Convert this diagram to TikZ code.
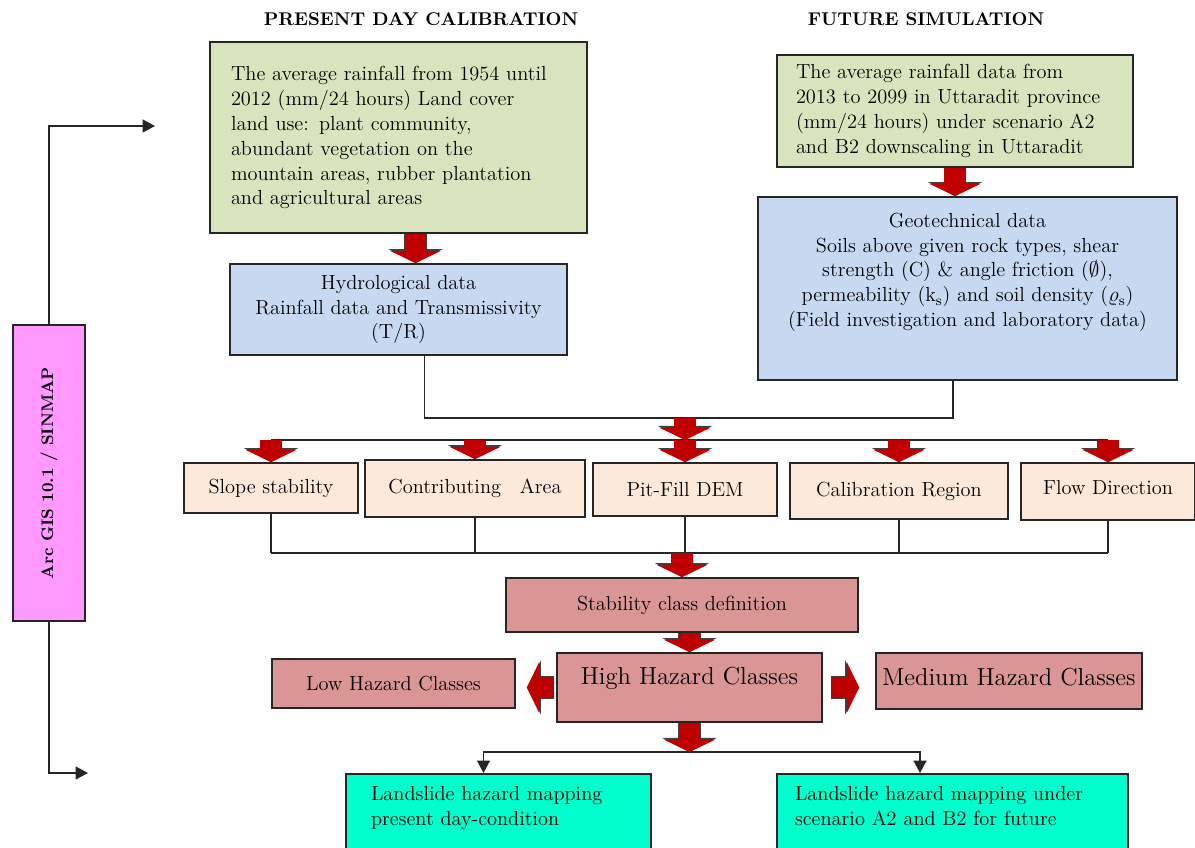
\documentclass[tikz,border=0pt]{standalone}
\usepackage{amssymb}
\usepackage{amsmath}
\usepackage{tikz}
\usetikzlibrary{arrows.meta}
\definecolor{rainfill}{HTML}{D7E4BD}
\definecolor{datafill}{HTML}{C6D9F1}
\definecolor{layerfill}{HTML}{FDE9D9}
\definecolor{classfill}{HTML}{D99694}
\definecolor{mapfill}{HTML}{00FFCC}
\definecolor{gisfill}{HTML}{FF99FF}
\definecolor{redfill}{HTML}{C00000}

\begin{document}
\begin{tikzpicture}
        \tikzstyle{every node} = [rectangle, font=\fontsize{11.6}{14.2}\selectfont]
        \tikzstyle{flowbox} = [draw=black!85, line width=1pt]
        \tikzstyle{headtext} = [font=\bfseries\fontsize{10.5}{13}\selectfont]
        \tikzstyle{bigtext} = [font=\fontsize{14}{17}\selectfont]
        \tikzstyle{conn} = [draw=black!85, line width=0.9pt]
        \tikzstyle{blacktip} = [-{Triangle[length=0.25cm,width=0.26cm]}]
        \tikzstyle{fatarrow} = [draw=redfill, line width=12pt,
            -{Triangle[width=29pt,length=7pt,line width=0pt]},
            preaction={draw=black!75, line width=13pt, -{Triangle[width=31pt,length=8pt,line width=0pt]}}]
        \useasboundingbox (0,0) rectangle (23.9,-16.94);

        % headings
        \node[headtext] (presenthead) at (8.42,-0.38) {PRESENT DAY CALIBRATION};
        \node[headtext] (futurehead) at (18.52,-0.38) {FUTURE SIMULATION};

        % input data
        \node[flowbox, fill=rainfill, align=left, text width=6.7cm, inner xsep=0.42cm, minimum height=3.82cm] (presbox) at (7.97,-2.75)
            {The average rainfall from 1954 until\\2012 (mm/24 hours) Land cover\\land use: plant community,\\abundant vegetation on the\\mountain areas, rubber plantation\\and agricultural areas};
        \node[flowbox, fill=rainfill, align=left, text width=6.36cm, inner xsep=0.38cm, minimum height=2.24cm] (futbox) at (19.1,-2.22)
            {The average rainfall data from\\2013 to 2099 in Uttaradit province\\(mm/24 hours) under scenario A2\\and B2 downscaling in Uttaradit};
        \node[flowbox, fill=datafill, align=center, minimum width=6.74cm, minimum height=1.82cm] (hydro) at (7.97,-6.19)
            {Hydrological data\\Rainfall data and Transmissivity\\(T/R)};
        \node[flowbox, fill=datafill, align=center, minimum width=8.38cm, minimum height=3.66cm] (geo) at (19.35,-5.77)
            {Geotechnical data\\Soils above given rock types, shear\\strength (C) \& angle friction ($\emptyset$),\\permeability (k\textsubscript{s}) and soil density ($\varrho$\textsubscript{s})\\(Field investigation and laboratory data)\\[0.25cm]\mbox{}};

        % SINMAP layers
        \node[flowbox, fill=layerfill, minimum width=3.48cm, minimum height=1.0cm] (slope) at (5.42,-9.76) {Slope stability};
        \node[flowbox, fill=layerfill, minimum width=4.4cm, minimum height=1.14cm] (contrib) at (9.5,-9.77) {Contributing\hspace{0.6em} Area};
        \node[flowbox, fill=layerfill, minimum width=3.68cm, minimum height=1.06cm] (pitfill) at (13.7,-9.79) {Pit-Fill DEM};
        \node[flowbox, fill=layerfill, minimum width=4.36cm, minimum height=1.12cm] (calib) at (17.98,-9.82) {Calibration Region};
        \node[flowbox, fill=layerfill, minimum width=3.48cm, minimum height=1.14cm, text depth=0.15cm] (flow) at (22.16,-9.83) {Flow Direction};

        % classes
        \node[flowbox, fill=classfill, minimum width=7.04cm, minimum height=1.08cm] (stab) at (13.64,-12.1) {Stability class definition};
        \node[flowbox, fill=classfill, bigtext, minimum width=5.3cm, minimum height=1.38cm, text depth=0.45cm] (high) at (13.79,-13.75) {High Hazard Classes};
        \node[flowbox, fill=classfill, minimum width=4.86cm, minimum height=0.98cm] (low) at (7.87,-13.67) {Low Hazard Classes};
        \node[flowbox, fill=classfill, bigtext, minimum width=5.32cm, minimum height=1.12cm, text depth=0.15cm] (med) at (20.18,-13.62) {Medium Hazard Classes};

        % maps
        \node[flowbox, fill=mapfill, anchor=north, align=left, text width=5.1cm, inner xsep=0.5cm, inner ysep=7pt] (land1) at (9.97,-15.46)
            {Landslide hazard mapping\\present day-condition\\[0.6cm]\mbox{}};
        \node[flowbox, fill=mapfill, anchor=north, align=left, text width=6.3cm, inner xsep=0.36cm, inner ysep=7pt] (land2) at (19.05,-15.46)
            {Landslide hazard mapping under\\scenario A2 and B2 for future\\[0.6cm]\mbox{}};

        \node[flowbox, fill=gisfill, rotate=90, minimum width=5.92cm, minimum height=1.44cm, font=\bfseries\fontsize{9.5}{11}\selectfont] (gis) at (0.98,-9.46) {Arc GIS 10.1 / SINMAP};

        \coordinate (join) at (13.7,-8.36);
        \coordinate (bus) at (13.7,-8.8);
        \coordinate (collect) at (13.7,-11.06);
        \coordinate (split) at (13.6,-15.04);
        \coordinate (gisin) at (3.1,-2.52);
        \coordinate (gisout) at (1.76,-15.46);

        % connectors
        \draw[fatarrow] ([xshift=0.34cm]presbox.south) -- ([xshift=0.34cm]hydro.north);
        \draw[fatarrow] (futbox.south) -- (futbox.south |- geo.north);
        \draw[conn] ([xshift=0.52cm]hydro.south) |- (join) -| ([xshift=-0.29cm]geo.south);
        \draw[conn] (slope.north |- bus) -- (flow.north |- bus);
        \draw[fatarrow] (join) -- (bus);
        \foreach \n in {slope, contrib, pitfill, calib, flow}
            \draw[fatarrow] (\n.north |- bus) -- (\n.north);
        \foreach \n in {slope, contrib, pitfill, calib, flow}
            \draw[conn] (\n.south) -- (\n.south |- collect);
        \draw[conn] (slope.south |- collect) -- (flow.south |- collect);
        \draw[fatarrow] (stab.north |- collect) -- (stab.north);
        \draw[fatarrow] (high.north |- stab.south) -- (high.north);
        \draw[fatarrow, shorten <=1pt, shorten >=0.22cm] (high.west) -- (high.west -| low.east);
        \draw[fatarrow, shorten <=0.16cm, shorten >=0.32cm] (high.east) -- (high.east -| med.west);
        \draw[conn, blacktip] (split) -| ([xshift=-0.3cm]land1.north);
        \draw[conn, blacktip] (split) -| ([xshift=-0.65cm]land2.north);
        \draw[fatarrow] (high.south) -- (high.south |- split);
        \draw[conn, blacktip] (gis.east) |- (gisin);
        \draw[conn, blacktip] (gis.west) |- (gisout);
\end{tikzpicture}
\end{document}
